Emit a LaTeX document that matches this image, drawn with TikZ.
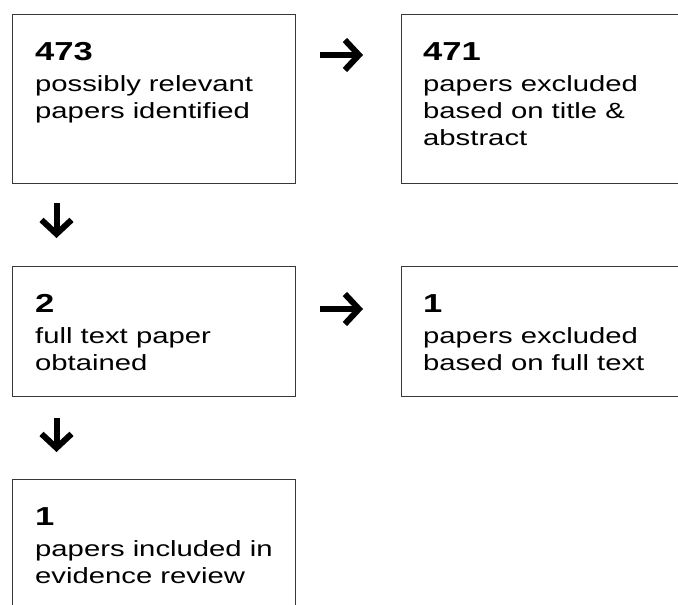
\documentclass[tikz,border=0pt]{standalone}
\usepackage{fontspec}
\setmainfont{Liberation Sans}
\usetikzlibrary{arrows.meta,calc}
% wide text: the glyphs are set a little broader than usual
\newcommand{\hstretch}[1]{\scalebox{1.33}[1]{#1}}

\tikzset{
  box/.style={draw=black!78, line width=1.4pt, fill=white, rectangle,
    minimum width=283pt, anchor=north west, inner sep=0pt},
  count/.style={anchor=base west, inner sep=0pt,
    font=\fontsize{26}{30}\selectfont\bfseries},
  txt/.style={anchor=base west, inner sep=0pt,
    font=\fontsize{22}{26}\selectfont},
  flow/.style={line width=6pt,
    -{Straight Barb[length=14pt,width=30pt]}},
}

\begin{document}
\begin{tikzpicture}[x=1pt,y=-1pt]
  \useasboundingbox (0,0) rectangle (678,605);
  \clip (0,0) rectangle (678,605);

  % boxes
  \node[box, minimum height=169pt] (b1) at (12,14) {};
  \node[box, minimum height=169pt] (b2) at (401,14) {};
  \node[box, minimum height=130pt] (b3) at (12,266) {};
  \node[box, minimum height=130pt] (b4) at (401,266) {};
  \node[box, minimum height=150pt] (b5) at (12,479) {};

  % box texts
  \node[count] (n1) at ($(b1.north west)+(23,46)$) {\hstretch{473}};
  \node[txt] (t1a) at ($(b1.north west)+(23,77)$) {\hstretch{possibly relevant}};
  \node[txt] (t1b) at ($(b1.north west)+(23,104)$) {\hstretch{papers identified}};

  \node[count] (n2) at ($(b2.north west)+(22,46)$) {\hstretch{471}};
  \node[txt] (t2a) at ($(b2.north west)+(22,77)$) {\hstretch{papers excluded}};
  \node[txt] (t2b) at ($(b2.north west)+(22,104)$) {\hstretch{based on title \&}};
  \node[txt] (t2c) at ($(b2.north west)+(22,131)$) {\hstretch{abstract}};

  \node[count] (n3) at ($(b3.north west)+(23,46)$) {\hstretch{2}};
  \node[txt] (t3a) at ($(b3.north west)+(23,77)$) {\hstretch{full text paper}};
  \node[txt] (t3b) at ($(b3.north west)+(23,104)$) {\hstretch{obtained}};

  \node[count] (n4) at ($(b4.north west)+(22,46)$) {\hstretch{1}};
  \node[txt] (t4a) at ($(b4.north west)+(22,77)$) {\hstretch{papers excluded}};
  \node[txt] (t4b) at ($(b4.north west)+(22,104)$) {\hstretch{based on full text}};

  \node[count] (n5) at ($(b5.north west)+(23,46)$) {\hstretch{1}};
  \node[txt] (t5a) at ($(b5.north west)+(23,77)$) {\hstretch{papers included in}};
  \node[txt] (t5b) at ($(b5.north west)+(23,104)$) {\hstretch{evidence review}};

  % arrows between the stages
  \coordinate (r1s) at (320,55);  \coordinate (r1e) at (363,55);
  \coordinate (r2s) at (320,309); \coordinate (r2e) at (363,309);
  \coordinate (d1s) at (56.5,203); \coordinate (d1e) at (56.5,238);
  \coordinate (d2s) at (56.5,418); \coordinate (d2e) at (56.5,452);
  \draw[flow] (r1s) -- (r1e);
  \draw[flow] (r2s) -- (r2e);
  \draw[flow] (d1s) -- (d1e);
  \draw[flow] (d2s) -- (d2e);
\end{tikzpicture}
\end{document}
